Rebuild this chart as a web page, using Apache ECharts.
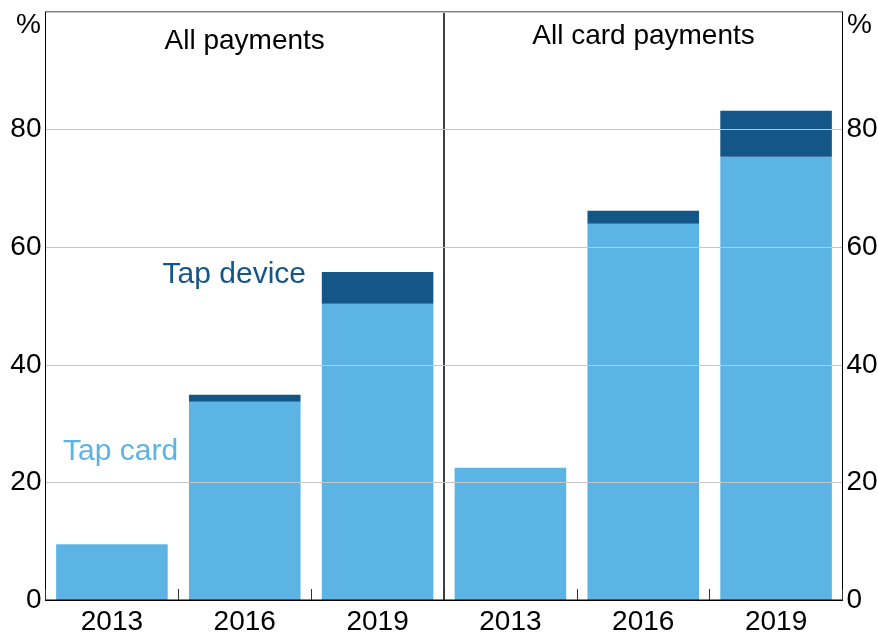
<!DOCTYPE html>
<html>
<head>
<meta charset="utf-8">
<script src="https://cdn.jsdelivr.net/npm/echarts@6/dist/echarts.min.js"></script>
<style>
html,body{margin:0;padding:0;background:#fff;}
#chart{width:878px;height:635px;}
</style>
</head>
<body>
<div id="chart"></div>
<script>
const categories = ['2013', '2016', '2019'];
const allTapCard = [9.5, 33.7, 50.4];
const allTapDevice = [0, 1.2, 5.4];
const cardTapCard = [22.5, 64.0, 75.4];
const cardTapDevice = [0, 2.2, 7.8];
const yTicks = [0, 20, 40, 60, 80];

const LIGHT = '#5BB4E3';
const DARK = '#155689';
const FONT = '"Liberation Sans", Arial, sans-serif';
const FS = 28;

const chart = echarts.init(document.getElementById('chart'));

const gridL = {left: 45.5, top: 12, width: 398.5, height: 588};
const gridR = {left: 444, top: 12, width: 398.5, height: 588};

function xAxisFor(idx) {
  return {
    type: 'category', gridIndex: idx, data: categories, z: 10,
    axisLine: {show: true, lineStyle: {color: '#000', width: 1}},
    axisTick: {show: true, inside: true, length: 11, alignWithLabel: false, lineStyle: {color: '#333', width: 1}},
    axisLabel: {color: '#000', fontFamily: FONT, fontSize: FS, margin: 8},
    splitLine: {show: false}
  };
}
function yAxisFor(idx, pos) {
  return {
    type: 'value', gridIndex: idx, position: pos, min: 0, max: 100, interval: 20, z: 10,
    axisLine: {show: true, lineStyle: {color: '#000', width: 1}},
    axisTick: {show: false},
    axisLabel: {
      color: '#000', fontFamily: FONT, fontSize: FS, margin: 4,
      formatter: v => (yTicks.indexOf(v) >= 0 ? String(v) : '')
    },
    splitLine: {show: true, lineStyle: {color: '#c6c6c6', width: 1}}
  };
}

function barSeries(name, data, xi, color) {
  return {
    name, type: 'bar', stack: 's' + xi, xAxisIndex: xi, yAxisIndex: xi,
    data, barCategoryGap: '16%', itemStyle: {color}, silent: true, animation: false
  };
}

const txt = (text, x, y, color, align, fs) => ({
  type: 'text', x, y, z: 100,
  style: {text, fill: color, font: (fs || FS) + 'px ' + FONT, textAlign: align, textVerticalAlign: 'middle'}
});

const gridBase = {show: true, borderColor: '#000', borderWidth: 1, backgroundColor: 'transparent', z: 5, containLabel: false, outerBoundsMode: 'none'};

chart.setOption({
  animation: false,
  grid: [
    Object.assign({}, gridBase, gridL),
    Object.assign({}, gridBase, gridR)
  ],
  xAxis: [xAxisFor(0), xAxisFor(1)],
  yAxis: [yAxisFor(0, 'left'), yAxisFor(1, 'right')],
  series: [
    barSeries('Tap card', allTapCard, 0, LIGHT),
    barSeries('Tap device', allTapDevice, 0, DARK),
    barSeries('Tap card', cardTapCard, 1, LIGHT),
    barSeries('Tap device', cardTapDevice, 1, DARK)
  ],
  graphic: [
    txt('All payments', 244.7, 41, '#000', 'center'),
    txt('All card payments', 643.5, 36.5, '#000', 'center'),
    txt('%', 41, 25, '#000', 'right'),
    txt('%', 847, 25, '#000', 'left'),
    txt('Tap device', 306, 275, DARK, 'right', 30),
    txt('Tap card', 63, 452, LIGHT, 'left', 30)
  ]
});
</script>
</body>
</html>
